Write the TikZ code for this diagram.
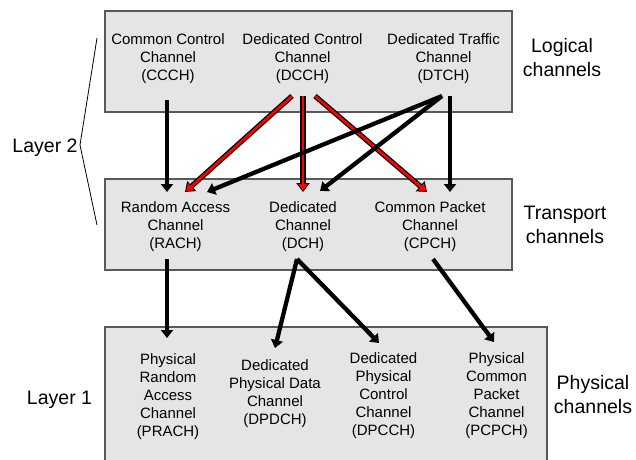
\documentclass[tikz,border=0pt]{standalone}
\usepackage{fontspec}
\setmainfont{Liberation Sans}
\usetikzlibrary{arrows.meta}
\newcommand{\chanstrut}{\rule{0pt}{12pt}}
\newcommand{\labelstrut}{\rule{0pt}{15pt}}
\begin{document}
\begin{tikzpicture}[x=1pt,y=-1pt,
  layerbox/.style={draw=black!65, line width=1.3pt, fill=black!10},
  chan/.style={anchor=north, inner sep=0pt, align=center, font=\fontsize{15}{18}\selectfont},
  biglabel/.style={anchor=north, inner sep=0pt, align=center, font=\fontsize{19.5}{24}\selectfont},
  layerlabel/.style={anchor=base, inner sep=0pt, font=\fontsize{19.5}{24}\selectfont},
  flow/.style={draw=black, line width=4.3pt, -{Triangle[length=8pt,width=12pt]}},
  redflow/.style={draw=red, line width=2.6pt, -{Triangle[length=6.5pt,width=9pt]}, shorten >=1.5pt,
    preaction={draw=black, line width=5.2pt, -{Triangle[length=9pt,width=13pt]}, shorten >=0pt}},
]
\useasboundingbox (0,0) rectangle (636,459);

% channel layers
\path[layerbox] (105,11) rectangle (512,112);
\path[layerbox] (105,179) rectangle (512,270);
\path[layerbox] (105,327) rectangle (547,470);

% logical channels
\node[chan] (ccch) at (168,32)   {\chanstrut Common Control\\Channel\\(CCCH)};
\node[chan] (dcch) at (302.5,32) {\chanstrut Dedicated Control\\Channel\\(DCCH)};
\node[chan] (dtch) at (443.5,32) {\chanstrut Dedicated Traffic\\Channel\\(DTCH)};

% transport channels
\node[chan] (rach) at (175.5,200) {\chanstrut Random Access\\Channel\\(RACH)};
\node[chan] (dch)  at (303,200)   {\chanstrut Dedicated\\Channel\\(DCH)};
\node[chan] (cpch) at (430,200)   {\chanstrut Common Packet\\Channel\\(CPCH)};

% physical channels
\node[chan] (prach) at (168,352)   {\chanstrut Physical\\Random\\Access\\Channel\\(PRACH)};
\node[chan] (dpdch) at (275,358)   {\chanstrut Dedicated\\Physical Data\\Channel\\(DPDCH)};
\node[chan] (dpcch) at (383.5,351) {\chanstrut Dedicated\\Physical\\Control\\Channel\\(DPCCH)};
\node[chan] (pcpch) at (496.5,351) {\chanstrut Physical\\Common\\Packet\\Channel\\(PCPCH)};

% layer names
\node[biglabel] (logical)   at (562,37)  {\labelstrut Logical\\channels};
\node[biglabel] (transport) at (565,204) {\labelstrut Transport\\channels};
\node[biglabel] (physical)  at (593,374) {\labelstrut Physical\\channels};
\node[layerlabel] (layer2) at (45,152)   {Layer 2};
\node[layerlabel] (layer1) at (59.5,404) {Layer 1};

% bracket grouping the two upper layers
\draw[line width=0.8pt] (97,38) -- (80,145) -- (97,225);

% connector end points
\coordinate (ccch-o)  at (167,100);
\coordinate (dcch-o1) at (292,96);
\coordinate (dcch-o2) at (303,96);
\coordinate (dcch-o3) at (315,96);
\coordinate (dtch-o1) at (442,96);
\coordinate (dtch-o2) at (450,96);
\coordinate (rach-i1) at (167,192);
\coordinate (rach-i2) at (185,192);
\coordinate (rach-i3) at (207,192);
\coordinate (dch-i1)  at (303,192);
\coordinate (dch-i2)  at (320,191);
\coordinate (cpch-i1) at (427,192);
\coordinate (cpch-i2) at (450,192);
\coordinate (rach-o)  at (167,259);
\coordinate (dch-o)   at (297,259);
\coordinate (cpch-o)  at (433,259);
\coordinate (prach-i) at (167,338);
\coordinate (dpdch-i) at (275,348);
\coordinate (dpcch-i) at (379,343);
\coordinate (pcpch-i) at (494,342);

% logical -> transport
\draw[flow] (ccch-o) -- (rach-i1);
\draw[redflow] (dcch-o1) -- (rach-i2);
\draw[redflow] (dcch-o2) -- (dch-i1);
\draw[redflow] (dcch-o3) -- (cpch-i1);
\draw[flow] (dtch-o1) -- (rach-i3);
\draw[flow] (dtch-o1) -- (dch-i2);
\draw[flow] (dtch-o2) -- (cpch-i2);

% transport -> physical
\draw[flow] (rach-o) -- (prach-i);
\draw[flow] (dch-o) -- (dpdch-i);
\draw[flow] (dch-o) -- (dpcch-i);
\draw[flow] (cpch-o) -- (pcpch-i);
\end{tikzpicture}
\end{document}
